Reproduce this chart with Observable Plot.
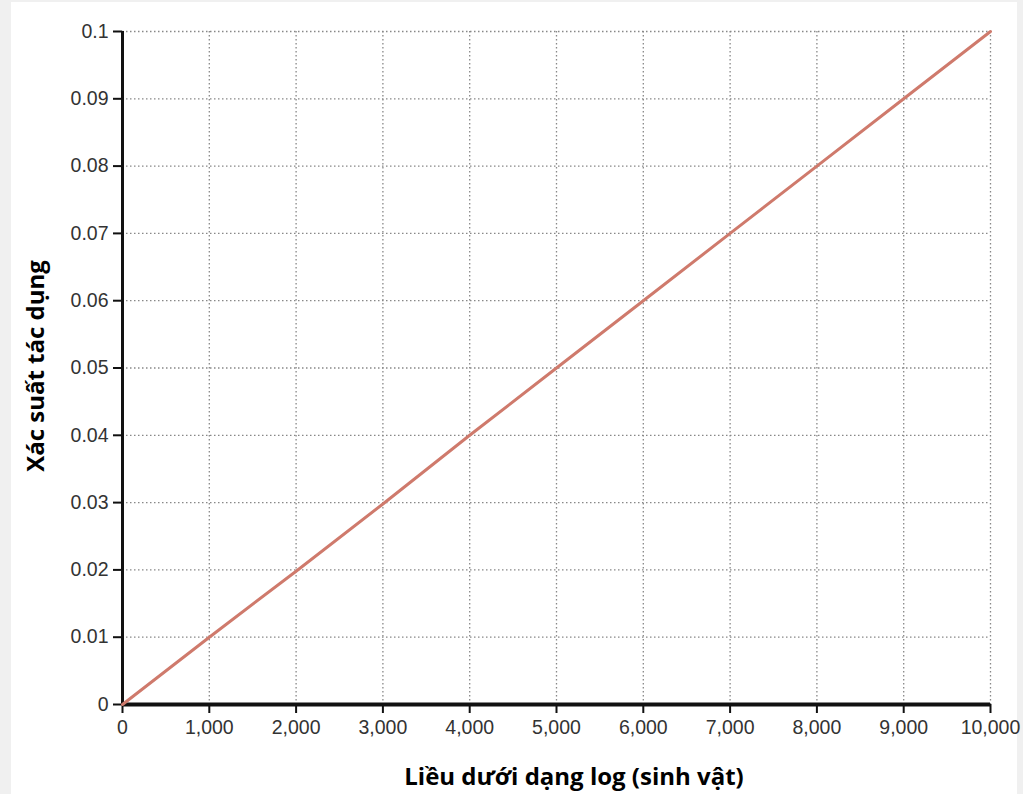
<!DOCTYPE html>
<html>
<head>
<meta charset="utf-8">
<script src="https://cdn.jsdelivr.net/npm/d3@7"></script>
<script src="https://cdn.jsdelivr.net/npm/@observablehq/plot@0.6"></script>
<style>
  html, body { margin: 0; padding: 0; background: #f0f0f0; }
  #wrap { position: relative; width: 1023px; height: 794px; overflow: hidden; }
  #panel { position: absolute; left: 11px; top: 2px; width: 1006px; height: 792px; background: #fff; }
  #chart { position: absolute; left: 0; top: 0; }
  #chart svg text { font-size: 19.5px; font-family: "Liberation Sans", Arial, sans-serif; }
  .title { position: absolute; font-family: "Open Sans", "Noto Sans", sans-serif; font-weight: bold; font-size: 24px; color: #000; white-space: nowrap; line-height: 1; }
  #xtitle { left: 574px; top: 764px; transform: translateX(-50%); }
  #ytitle { left: 35px; top: 366px; transform: translate(-50%, -50%) rotate(-90deg); }
</style>
</head>
<body>
<div id="wrap">
  <div id="panel"></div>
  <div id="chart"></div>
  <div class="title" id="xtitle">Liều dưới dạng log (sinh vật)</div>
  <div class="title" id="ytitle">Xác suất tác dụng</div>
</div>
<script>
const doses = [0, 1000, 2000, 3000, 4000, 5000, 6000, 7000, 8000, 9000, 10000];
const probabilities = [0, 0.01, 0.0198, 0.0298, 0.04, 0.05, 0.06, 0.07, 0.08, 0.09, 0.1];
const xTicks = [0, 1000, 2000, 3000, 4000, 5000, 6000, 7000, 8000, 9000, 10000];
const yTicks = [0, 0.01, 0.02, 0.03, 0.04, 0.05, 0.06, 0.07, 0.08, 0.09, 0.1];

const data = doses.map((d, i) => ({dose: d, p: probabilities[i]}));

const chart = Plot.plot({
  width: 1023,
  height: 794,
  marginLeft: 122,
  marginRight: 33,
  marginTop: 31,
  marginBottom: 90,
  style: {background: "transparent", fontFamily: "'Liberation Sans', Arial, sans-serif", fontSize: "19.5px", color: "#333"},
  x: {domain: [0, 10000]},
  y: {domain: [0, 0.1]},
  marks: [
    Plot.gridX(xTicks.filter(d => d > 0), {stroke: "#888", strokeOpacity: 1, strokeWidth: 1.3, strokeDasharray: "1.5,2.5"}),
    Plot.gridY(yTicks.filter(d => d > 0), {stroke: "#888", strokeOpacity: 1, strokeWidth: 1.3, strokeDasharray: "1.5,2.5"}),
    Plot.axisX(xTicks, {tickSize: 9, strokeWidth: 2, stroke: "#111", tickPadding: 7, tickFormat: d3.format(","), fill: "#333", label: null}),
    Plot.axisY(yTicks, {tickSize: 9, strokeWidth: 2, stroke: "#111", tickPadding: 5, tickFormat: d => String(d), fill: "#333", label: null}),
    Plot.ruleY([0], {stroke: "#111", strokeWidth: 4}),
    Plot.ruleX([0], {stroke: "#111", strokeWidth: 3}),
    Plot.line(data, {x: "dose", y: "p", stroke: "#cf7a6c", strokeWidth: 3})
  ]
});
document.getElementById("chart").appendChild(chart);
</script>
</body>
</html>
